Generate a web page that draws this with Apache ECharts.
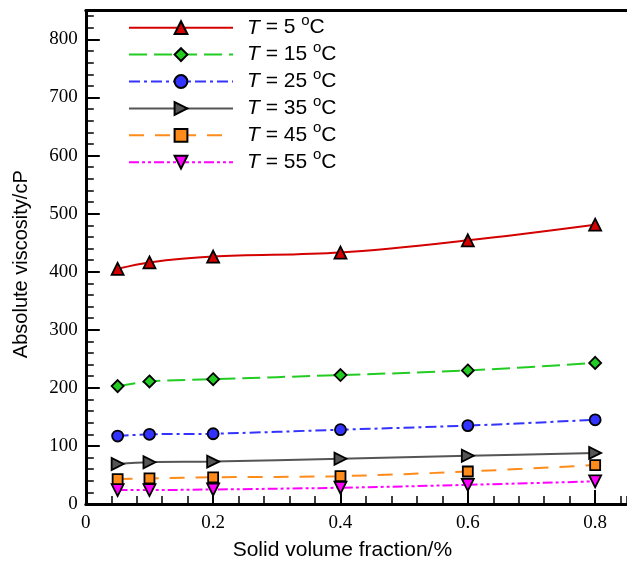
<!DOCTYPE html>
<html>
<head>
<meta charset="utf-8">
<script src="https://cdn.jsdelivr.net/npm/echarts@6/dist/echarts.min.js"></script>
<style>
html,body{margin:0;padding:0;background:#fff;}
#chart{width:627px;height:566px;}
</style>
</head>
<body>
<div id="chart"></div>
<script>
// ---- data ----
var fractions = [0.05, 0.1, 0.2, 0.4, 0.6, 0.8];
var temps = [5, 15, 25, 35, 45, 55];
var visc5  = [405, 416, 426, 433, 454, 481];
var visc15 = [203, 211, 215, 222, 230, 243];
var visc25 = [117, 120, 121, 128, 135, 145];
var visc35 = [69, 72, 73, 78, 83, 88];
var visc45 = [43, 44, 46, 48, 56, 67];
var visc55 = [24, 24, 25, 28, 33, 39];
var xTicks = ['0', '0.2', '0.4', '0.6', '0.8'];
var yTicks = ['0', '100', '200', '300', '400', '500', '600', '700', '800'];

var allValues = [visc5, visc15, visc25, visc35, visc45, visc55];
var diamond = 'path://M0,-1 L1,0 L0,1 L-1,0 Z';
var styles = [
  {color: '#d40000', type: 'solid', symbol: 'triangle', rot: 0, size: 12},
  {color: '#22cc22', type: [18, 7], symbol: diamond, rot: 0, size: 12},
  {color: '#3333ff', type: [11, 4, 3, 4], symbol: 'circle', rot: 0, size: 11},
  {color: '#555555', type: 'solid', symbol: 'triangle', rot: -90, size: 12},
  {color: '#ff8c1a', type: [15, 11], symbol: 'rect', rot: 0, size: 10},
  {color: '#ff00ff', type: [10, 3, 3, 3, 3, 3], symbol: 'triangle', rot: 180, size: 12}
];

var series = temps.map(function (t, i) {
  var st = styles[i];
  return {
    name: 'T = ' + t + ' oC',
    type: 'line',
    xAxisIndex: 0,
    yAxisIndex: 0,
    smooth: 0.35,
    data: fractions.map(function (f, j) { return [f, allValues[i][j]]; }),
    symbol: st.symbol,
    symbolSize: st.size,
    symbolRotate: st.rot,
    lineStyle: {color: st.color, width: 2, type: st.type},
    itemStyle: {color: st.color, borderColor: '#000', borderWidth: 1.8},
    z: 10 - i
  };
});

var chart = echarts.init(document.getElementById('chart'), null, {renderer: 'canvas'});
var labelFont = {fontFamily: 'Liberation Serif', fontSize: 19, color: '#000'};
var grid = {left: 85.8, right: 0, top: 10.4, bottom: 56.7};
chart.setOption({
  animation: false,
  backgroundColor: '#fff',
  grid: grid,
  legend: {
    orient: 'vertical',
    left: 128,
    top: 13.2,
    padding: 0,
    itemWidth: 104,
    itemHeight: 16,
    itemGap: -2.1,
    data: series.map(function (s) { return s.name; }),
    formatter: function (name) {
      var t = name.match(/\d+/)[0];
      return '{i|T}{n| = ' + t + ' }{s|o}{n|C}';
    },
    textStyle: {
      lineHeight: 22,
      rich: {
        i: {fontFamily: 'Liberation Sans', fontSize: 21, fontStyle: 'italic', color: '#000', lineHeight: 22, padding: [0, 0, 0, 9]},
        n: {fontFamily: 'Liberation Sans', fontSize: 21, color: '#000', lineHeight: 22},
        s: {fontFamily: 'Liberation Sans', fontSize: 15, color: '#000', lineHeight: 6, padding: [0, 0, 14, 0]}
      }
    }
  },
  xAxis: [
    {
      type: 'value', position: 'bottom', min: 0, max: 0.85, interval: 0.2,
      name: 'Solid volume fraction/%', nameLocation: 'middle', nameGap: 36,
      nameTextStyle: {fontFamily: 'Liberation Sans', fontSize: 21, color: '#000', padding: [0, 28, 0, 0]},
      axisLine: {show: true, lineStyle: {color: '#000', width: 3}},
      axisTick: {show: true, inside: true, length: 14, lineStyle: {color: '#000', width: 2}},
      axisLabel: Object.assign({margin: 10, showMaxLabel: false, formatter: function (v) {
        var idx = Math.round(v / 0.2); return xTicks[idx] !== undefined ? xTicks[idx] : '';
      }}, labelFont),
      splitLine: {show: false}
    },
    {
      type: 'value', position: 'bottom', min: 0, max: 0.85, interval: 0.04,
      axisLine: {show: false},
      axisTick: {show: true, inside: true, length: 8, lineStyle: {color: '#000', width: 1.5}},
      axisLabel: {show: false},
      splitLine: {show: false}
    },
    {
      type: 'value', position: 'top', min: 0, max: 0.85,
      axisLine: {show: true, lineStyle: {color: '#000', width: 3}},
      axisTick: {show: false},
      axisLabel: {show: false},
      splitLine: {show: false}
    }
  ],
  yAxis: [
    {
      type: 'value', position: 'left', min: 0, max: 850, interval: 100,
      name: 'Absolute viscosity/cP', nameLocation: 'middle', nameGap: 54,
      nameTextStyle: {fontFamily: 'Liberation Sans', fontSize: 20, color: '#000', padding: [0, 14, 0, 0]},
      axisLine: {show: true, lineStyle: {color: '#000', width: 3}},
      axisTick: {show: true, inside: true, length: 14, lineStyle: {color: '#000', width: 2}},
      axisLabel: Object.assign({margin: 8, showMaxLabel: false, formatter: function (v) {
        var idx = Math.round(v / 100); return yTicks[idx] !== undefined ? yTicks[idx] : '';
      }}, labelFont),
      splitLine: {show: false}
    },
    {
      type: 'value', position: 'left', min: 0, max: 850, interval: 20,
      axisLine: {show: false},
      axisTick: {show: true, inside: true, length: 8, lineStyle: {color: '#000', width: 1.5}},
      axisLabel: {show: false},
      splitLine: {show: false}
    }
  ],
  series: series
});
</script>
</body>
</html>
